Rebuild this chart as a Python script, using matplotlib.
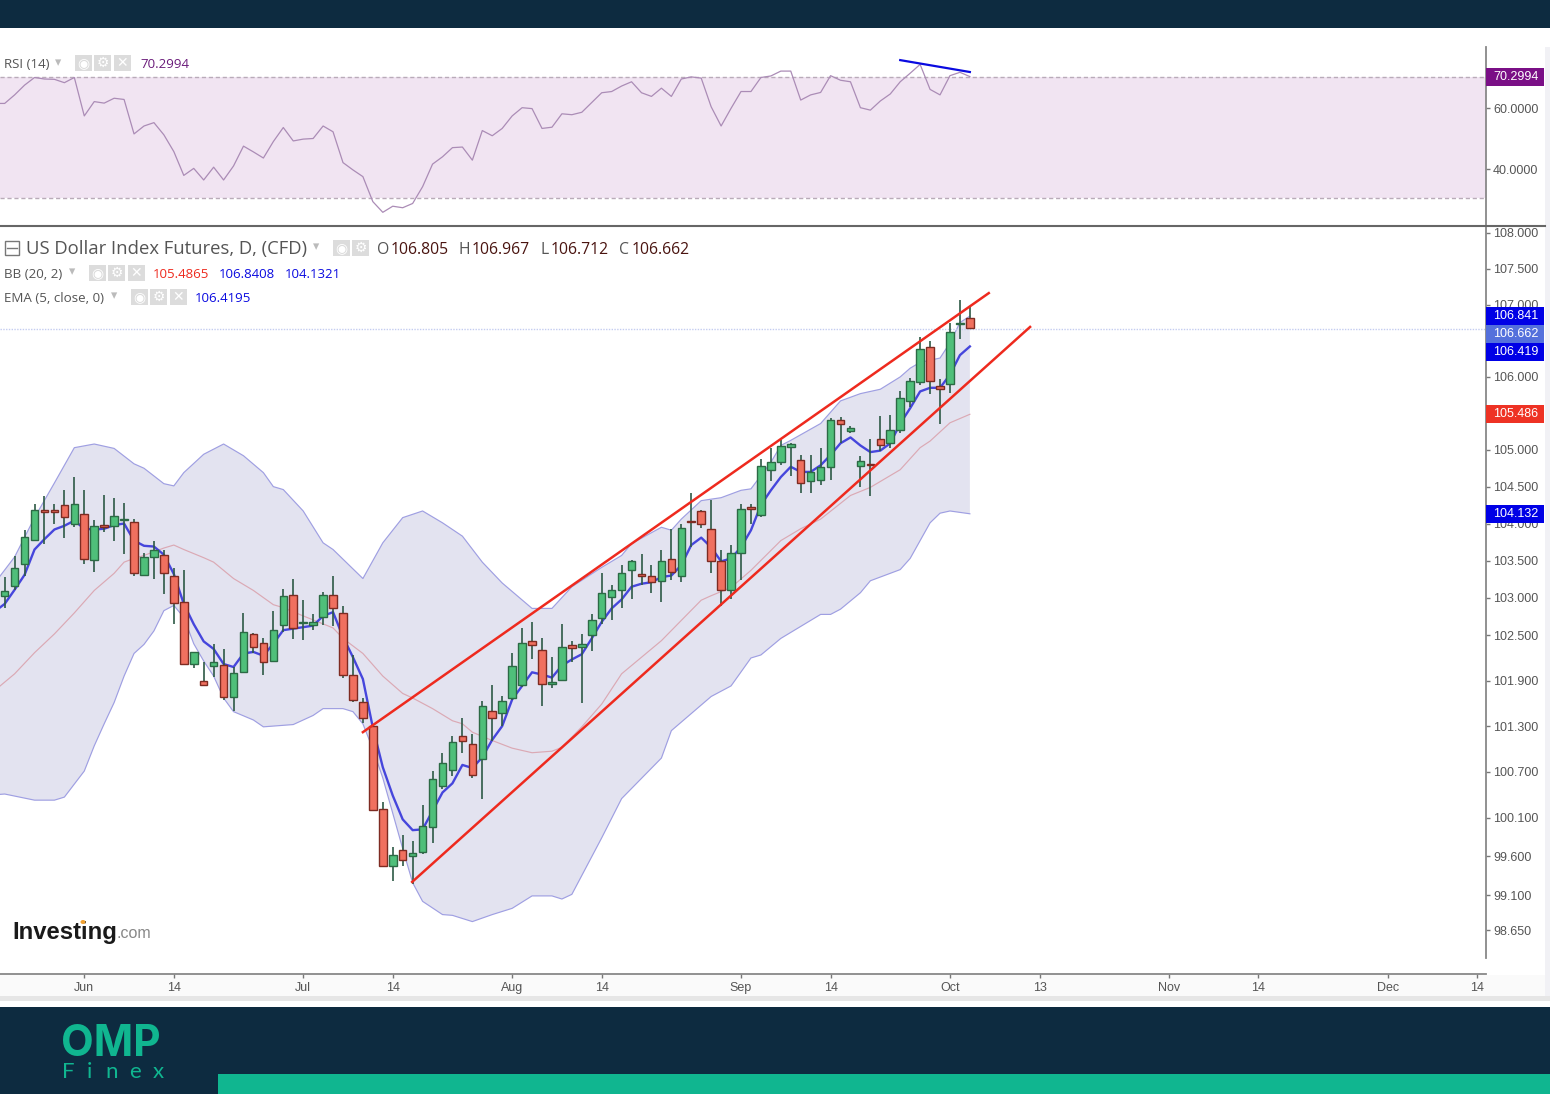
from matplotlib import pyplot as plt
from matplotlib.patches import Rectangle, Ellipse
import numpy as np

plt.rcParams['font.family'] = ['Open Sans', 'DejaVu Sans']

# candles, one per trading day
opens = [103.03, 103.16, 103.46, 103.78, 104.18, 104.19, 104.25, 104.00, 104.13, 103.51,
         103.98, 103.97, 104.05, 104.02, 103.31, 103.55, 103.58, 103.29, 102.94, 102.12,
         101.89, 102.09, 102.11, 101.68, 102.02, 102.52, 102.40, 102.16, 102.64, 103.04,
         102.66, 102.64, 102.75, 103.04, 102.80, 101.98, 101.62, 101.30, 100.22, 99.47,
         99.68, 99.60, 99.66, 99.98, 100.52, 100.73, 101.17, 101.06, 100.87, 101.50,
         101.47, 101.67, 101.84, 102.43, 102.31, 101.85, 101.91, 102.37, 102.34, 102.50,
         102.73, 103.01, 103.11, 103.38, 103.32, 103.29, 103.23, 103.52, 103.29, 104.04,
         104.17, 103.92, 103.50, 103.11, 103.60, 104.22, 104.11, 104.73, 104.84, 105.04,
         104.86, 104.58, 104.59, 104.77, 105.41, 105.26, 104.78, 104.81, 105.15, 105.10,
         105.27, 105.67, 105.93, 106.41, 105.88, 105.90, 106.73, 106.82]
closes = [103.09, 103.40, 103.82, 104.19, 104.16, 104.15, 104.09, 104.27, 103.52, 103.97,
          103.95, 104.10, 104.06, 103.33, 103.55, 103.65, 103.33, 102.93, 102.12, 102.28,
          101.84, 102.14, 101.68, 102.00, 102.55, 102.35, 102.14, 102.57, 103.03, 102.60,
          102.68, 102.68, 103.04, 102.87, 101.97, 101.65, 101.40, 100.20, 99.47, 99.62,
          99.55, 99.64, 100.00, 100.61, 100.81, 101.09, 101.10, 100.66, 101.56, 101.40,
          101.63, 102.10, 102.40, 102.37, 101.85, 101.88, 102.35, 102.33, 102.39, 102.70,
          103.07, 103.11, 103.34, 103.49, 103.29, 103.21, 103.49, 103.35, 103.94, 104.02,
          104.00, 103.49, 103.11, 103.60, 104.20, 104.20, 104.78, 104.83, 105.05, 105.08,
          104.55, 104.70, 104.77, 105.41, 105.35, 105.30, 104.85, 104.79, 105.07, 105.27,
          105.71, 105.94, 106.38, 105.94, 105.84, 106.62, 106.74, 106.68]
highs = [103.28, 103.56, 103.91, 104.27, 104.37, 104.26, 104.46, 104.63, 104.46, 104.05,
         104.38, 104.34, 104.28, 104.06, 103.60, 103.76, 103.64, 103.40, 103.37, 102.28,
         102.15, 102.39, 102.32, 102.08, 102.80, 102.53, 102.47, 102.83, 103.12, 103.25,
         102.97, 102.79, 103.08, 103.30, 102.89, 102.24, 101.67, 101.33, 100.31, 99.72,
         99.88, 99.80, 100.27, 100.71, 100.95, 101.17, 101.41, 101.20, 101.63, 101.84,
         101.69, 102.26, 102.60, 102.68, 102.47, 102.21, 102.65, 102.42, 102.52, 102.79,
         103.34, 103.18, 103.44, 103.51, 103.59, 103.44, 103.65, 103.93, 103.99, 104.41,
         104.19, 104.32, 103.65, 103.71, 104.27, 104.27, 104.88, 105.02, 105.13, 105.09,
         104.93, 104.93, 105.03, 105.44, 105.45, 105.32, 104.91, 105.15, 105.46, 105.48,
         105.81, 105.98, 106.55, 106.49, 105.97, 106.75, 107.06, 106.98]
lows = [102.87, 103.10, 103.29, 103.77, 103.73, 103.99, 103.81, 103.96, 103.45, 103.35,
        103.88, 103.77, 103.59, 103.30, 103.30, 103.25, 103.05, 102.65, 102.12, 102.07,
        101.84, 101.95, 101.64, 101.50, 102.01, 102.26, 101.98, 102.14, 102.54, 102.45,
        102.44, 102.57, 102.64, 102.62, 101.93, 101.62, 101.34, 100.20, 99.46, 99.28,
        99.47, 99.24, 99.63, 99.77, 100.47, 100.65, 100.95, 100.62, 100.35, 101.11,
        101.30, 101.65, 101.81, 102.19, 101.57, 101.80, 101.90, 102.15, 101.61, 102.29,
        102.65, 102.70, 102.86, 102.98, 103.17, 103.06, 102.95, 103.24, 103.21, 103.68,
        103.94, 103.34, 102.89, 102.98, 103.24, 104.00, 104.09, 104.57, 104.80, 104.65,
        104.41, 104.41, 104.52, 104.59, 105.10, 105.23, 104.49, 104.37, 104.99, 105.02,
        105.23, 105.58, 105.89, 105.76, 105.35, 105.78, 106.52, 106.68]

# EMA (5) and RSI (14) start one day before the first whole candle
ema = [102.82, 102.92, 103.11, 103.31, 103.65, 103.79, 103.92, 103.97, 104.04, 103.93, 103.92,
       103.93, 103.98, 104.00, 103.77, 103.70, 103.69, 103.58, 103.32, 102.92, 102.65,
       102.42, 102.32, 102.12, 102.08, 102.26, 102.28, 102.23, 102.39, 102.57, 102.59,
       102.61, 102.63, 102.76, 102.81, 102.48, 102.21, 101.92, 101.28, 100.76, 100.39,
       100.08, 99.94, 99.95, 100.19, 100.43, 100.55, 100.79, 100.75, 100.89, 101.12,
       101.30, 101.65, 101.83, 102.01, 101.98, 101.94, 102.10, 102.18, 102.25, 102.46,
       102.68, 102.86, 102.98, 103.15, 103.19, 103.21, 103.28, 103.30, 103.44, 103.71,
       103.81, 103.68, 103.49, 103.53, 103.68, 103.91, 104.25, 104.45, 104.63, 104.77,
       104.70, 104.70, 104.79, 104.93, 105.09, 105.17, 105.06, 104.97, 104.99, 105.09,
       105.36, 105.57, 105.80, 105.85, 105.85, 106.03, 106.30, 106.42]
rsi = [61.5, 61.5, 64.3, 67.5, 70.0, 69.5, 69.4, 68.3, 70.0, 57.4, 62.1,
       61.6, 63.2, 62.8, 51.5, 54.1, 55.2, 51.2, 45.7, 37.9, 40.2,
       36.4, 40.6, 36.4, 41.0, 47.5, 45.6, 43.6, 49.0, 53.6, 49.2,
       49.8, 50.0, 54.1, 52.2, 42.1, 39.7, 37.5, 29.3, 25.8, 27.8,
       27.3, 28.7, 34.2, 41.6, 44.0, 47.0, 47.2, 42.9, 52.6, 50.9,
       53.3, 57.4, 60.1, 59.8, 53.3, 53.7, 58.1, 57.8, 58.6, 61.8,
       65.0, 65.4, 67.2, 68.6, 65.0, 63.8, 66.5, 63.8, 69.5, 70.2,
       69.8, 60.4, 54.1, 59.9, 65.4, 65.4, 70.0, 70.5, 72.1, 72.1,
       62.6, 64.3, 65.1, 70.6, 69.1, 68.6, 60.1, 59.3, 62.3, 64.6,
       68.6, 71.4, 74.3, 66.1, 64.3, 70.6, 71.7, 70.3]
rsi_band = [30.4, 70.15]

# Bollinger bands, only the days where the line visibly bends
upper_days = [-1, 1, 3, 5, 7, 9, 11, 13, 14, 16, 17, 18, 20, 22, 24, 26, 27, 28, 30, 32, 33, 36, 38, 40, 42, 44,
              46, 48, 50, 53, 55, 57, 60, 62, 63, 66, 67, 68, 70, 72, 74, 75, 77, 78, 79, 82, 84, 86, 88, 90,
              91, 92, 94, 95, 96, 97]
upper = [103.20, 103.55, 104.08, 104.55, 105.03, 105.08, 105.02, 104.81, 104.75, 104.54, 104.51, 104.69, 104.94,
         105.08, 104.92, 104.69, 104.50, 104.46, 104.17, 103.74, 103.65, 103.26, 103.74, 104.08, 104.17, 104.01,
         103.83, 103.48, 103.20, 102.86, 102.86, 103.15, 103.41, 103.57, 103.73, 103.95, 103.91, 104.06, 104.31,
         104.35, 104.45, 104.47, 104.83, 105.06, 105.13, 105.36, 105.67, 105.77, 105.83, 106.00, 106.12, 106.20,
         106.26, 106.47, 106.75, 106.8408]
lower_days = [-1, 0, 3, 5, 6, 7, 8, 9, 10, 11, 12, 13, 14, 15, 16, 17, 18, 19, 20, 21, 22, 23, 25, 26, 29, 31, 32,
              34, 35, 36, 37, 38, 39, 40, 41, 42, 44, 45, 47, 49, 51, 53, 55, 56, 57, 60, 62, 66, 67, 71, 73, 75,
              76, 78, 82, 83, 84, 86, 87, 90, 91, 93, 94, 95, 97]
lower = [100.40, 100.41, 100.33, 100.33, 100.37, 100.54, 100.71, 101.04, 101.33, 101.61, 101.96, 102.26, 102.38,
         102.56, 102.83, 102.90, 102.74, 102.39, 102.16, 101.96, 101.67, 101.49, 101.38, 101.29, 101.32, 101.44,
         101.53, 101.53, 101.49, 101.33, 101.00, 100.62, 100.16, 99.70, 99.26, 99.02, 98.85, 98.84, 98.76, 98.85,
         98.93, 99.09, 99.09, 99.05, 99.11, 99.84, 100.35, 100.88, 101.24, 101.69, 101.83, 102.20, 102.24, 102.46,
         102.78, 102.78, 102.85, 103.07, 103.23, 103.38, 103.53, 104.01, 104.14, 104.17, 104.1321]
middle_days = [-1, 1, 3, 5, 7, 9, 11, 12, 13, 14, 16, 17, 18, 20, 21, 23, 25, 27, 28, 30, 33, 34, 36, 38, 40, 41,
               43, 45, 46, 47, 49, 51, 53, 55, 56, 58, 60, 62, 66, 68, 70, 71, 73, 75, 78, 80, 82, 85, 87, 90, 92,
               93, 95, 97]
middle = [101.77, 101.99, 102.27, 102.52, 102.80, 103.10, 103.33, 103.48, 103.53, 103.57, 103.67, 103.71, 103.65,
          103.54, 103.48, 103.26, 103.10, 102.91, 102.87, 102.76, 102.60, 102.46, 102.26, 101.96, 101.73, 101.67,
          101.53, 101.37, 101.33, 101.22, 101.11, 101.01, 100.95, 100.97, 101.02, 101.29, 101.59, 101.99, 102.43,
          102.70, 102.97, 103.03, 103.14, 103.37, 103.77, 103.93, 104.06, 104.38, 104.49, 104.73, 105.03, 105.12,
          105.37, 105.4865]

# hand drawn lines: (day, value) at both ends
wedge_top_days = [36.0, 98.9]
wedge_top = [101.22, 107.16]
wedge_bottom_days = [40.95, 103.05]
wedge_bottom = [99.27, 106.69]
rsi_line_days = [90.0, 97.0]
rsi_line = [75.7, 71.8]
last_price = 106.662

price_ticks = [108, 107.5, 107, 106, 105, 104.5, 104, 103.5, 103, 102.5, 101.9, 101.3, 100.7, 100.1, 99.6, 99.1, 98.65]
rsi_ticks = [60, 40]
date_ticks = [8, 17, 30, 39, 51, 60, 74, 83, 95, 104, 117, 126, 139, 148]
date_labels = ['Jun', '14', 'Jul', '14', 'Aug', '14', 'Sep', '14', 'Oct', '13', 'Nov', '14', 'Dec', '14']

NAVY = '#0d2b40'
TEAL = '#10b690'
TICK_FONT = 'Liberation Sans'
W, H = 1550, 1094

fig = plt.figure(figsize=(W / 100, H / 100), dpi=100, facecolor='white')

# light strip behind the date labels
under = fig.add_axes([0, 0, 1, 1], zorder=-1)
under.set_xlim(0, W)
under.set_ylim(H, 0)
under.axis('off')
under.add_patch(Rectangle((0, 975), W, 21, color='#fafafa', lw=0))

ax_rsi = fig.add_axes([0, (H - 225) / H, 1486 / W, 178 / H])
ax = fig.add_axes([0, (H - 974) / H, 1486 / W, 747 / H])
days = np.arange(len(opens))
xlim = (-0.47, 148.87)

# RSI panel
ax_rsi.axhspan(rsi_band[0], rsi_band[1], color='#f1e4f2', lw=0)
ax_rsi.axhline(rsi_band[1], color='#b9abb9', lw=1, dashes=(3, 2))
ax_rsi.axhline(rsi_band[0], color='#b9abb9', lw=1, dashes=(3, 2))
ax_rsi.plot(np.arange(-1, len(rsi) - 1), rsi, color='#ab8cb6', lw=0.9)
ax_rsi.plot(rsi_line_days, rsi_line, color='#0a0ae0', lw=1.6)
ax_rsi.set_xlim(xlim)
ax_rsi.set_ylim(21.64, 80)
ax_rsi.set_xticks([])
ax_rsi.yaxis.tick_right()
ax_rsi.set_yticks(rsi_ticks)
ax_rsi.set_yticklabels(['%.4f' % t for t in rsi_ticks], fontsize=9, family=TICK_FONT, color='#555555')
ax_rsi.tick_params(axis='y', length=3, width=1, color='#777777', pad=2)
for side in ['top', 'left', 'bottom']:
    ax_rsi.spines[side].set_visible(False)
ax_rsi.spines['right'].set_color('#888888')
ax_rsi.spines['right'].set_linewidth(1.3)

# price panel
ax.set_yscale('log')
ax.fill(np.r_[upper_days, lower_days[::-1]], np.r_[upper, lower[::-1]], color='#e3e3f0', lw=0, zorder=1)
ax.plot(upper_days, upper, color='#9f9fe2', lw=0.85, zorder=2)
ax.plot(lower_days, lower, color='#9f9fe2', lw=0.85, zorder=2)
ax.plot(middle_days, middle, color='#dba9b4', lw=0.85, zorder=2)
ax.axhline(last_price, color='#c4ccf0', lw=1, dashes=(1, 1), zorder=2)
ax.plot(np.arange(-1, len(ema) - 1), ema, color='#4646dc', lw=1.7, zorder=3)

ax.vlines(days, lows, highs, color='#2d5a46', lw=1.2, zorder=4)
for d, o, c in zip(days, opens, closes):
    up = c >= o
    ax.bar(d, abs(c - o), bottom=min(o, c), width=0.76, color='#4fbf7a' if up else '#f0705f',
           edgecolor='#2c6a45' if up else '#7e2b22', lw=1, zorder=5)

ax.plot(wedge_top_days, wedge_top, color='#ee2a1e', lw=1.8, zorder=6)
ax.plot(wedge_bottom_days, wedge_bottom, color='#ee2a1e', lw=1.8, zorder=6)

ax.set_xlim(xlim)
ax.set_ylim(98.09, 108.084)
ax.patch.set_alpha(0)
ax.yaxis.tick_right()
ax.set_yticks(price_ticks)
ax.set_yticklabels(['%.3f' % t for t in price_ticks], fontsize=9, family=TICK_FONT, color='#555555')
ax.minorticks_off()
ax.set_xticks(date_ticks)
ax.set_xticklabels(date_labels, fontsize=9, family=TICK_FONT, color='#555555')
ax.tick_params(axis='both', length=3, width=1, color='#777777', pad=2)
ax.tick_params(axis='x', pad=2.5)
for side in ['top', 'left']:
    ax.spines[side].set_visible(False)
for side in ['right', 'bottom']:
    ax.spines[side].set_color('#888888')
    ax.spines[side].set_linewidth(1.3)
ax.spines['right'].set_bounds(98.29, 108.084)

# page furniture, in picture pixels with y going down
top = fig.add_axes([0, 0, 1, 1], zorder=5)
top.set_xlim(0, W)
top.set_ylim(H, 0)
top.axis('off')


def box(x, y, w, h, color):
    top.add_patch(Rectangle((x, y), w, h, color=color, lw=0))


def label(x, y, s, color='#555555', size=9.5, **kw):
    top.text(x, y, s, color=color, fontsize=size, va='center', **kw)


def icons(x, y, glyphs):
    for n, g in enumerate(glyphs):
        box(x + n * 19.3, y - 8, 17, 16, '#dcdcdc')
        top.text(x + n * 19.3 + 8.5, y, g, color='white', fontsize=10, ha='center', va='center',
                 family='DejaVu Sans', fontweight='bold')


def price_tag(axis, value, text, color, shift=0):
    y = H - axis.transData.transform((0, value))[1] + shift
    box(1486, y - 9, 58, 18, color)
    label(1493, y, text, color='white', size=9, family=TICK_FONT)


box(0, 0, W, 28, NAVY)
box(0, 996, W, 5, '#e6e6e6')
box(1545, 47, 5, 949, '#f1f1f5')
box(0, 1007, W, 87, NAVY)
box(218, 1074, W - 218, 20, TEAL)
top.plot([0, 1545], [226, 226], color='#666666', lw=1.5)

# legend rows
label(4, 65, 'RSI (14)', color='#555555', size=9.6)
label(55, 63, '▾', color='#bbbbbb', size=9, family='DejaVu Sans')
icons(75, 63, '◉⚙✕')
label(140, 65, '70.2994', color='#6a1b7a', size=9.5)

box(4.5, 241, 14, 14, 'white')
top.add_patch(Rectangle((4.5, 241), 14, 14, fill=False, edgecolor='#777777', lw=1))
top.plot([6.5, 16.5], [248, 248], color='#777777', lw=1)
label(26, 249, 'US Dollar Index Futures, D, (CFD)', color='#555555', size=13.3)
label(313, 247, '▾', color='#bbbbbb', size=9, family='DejaVu Sans')
icons(333, 248, '◉⚙')
for x, s, vx, v in [(377, 'O', 391, '106.805'), (459, 'H', 472, '106.967'),
                    (540, 'L', 551, '106.712'), (619, 'C', 632, '106.662')]:
    label(x, 250, s, color='#555555', size=11.3)
    label(vx, 250, v, color='#4a1410', size=11.3)

label(4, 274, 'BB (20, 2)', color='#555555', size=9.6)
label(69, 272, '▾', color='#bbbbbb', size=9, family='DejaVu Sans')
icons(89, 273, '◉⚙✕')
label(153, 274, '105.4865', color='#ee2a1e', size=9.5)
label(219, 274, '106.8408', color='#0a0ae0', size=9.5)
label(285, 274, '104.1321', color='#0a0ae0', size=9.5)

label(4, 298, 'EMA (5, close, 0)', color='#555555', size=9.6)
label(111, 296, '▾', color='#bbbbbb', size=9, family='DejaVu Sans')
icons(131, 297, '◉⚙✕')
label(195, 298, '106.4195', color='#0a0ae0', size=9.5)

# value tags on the axes
price_tag(ax_rsi, 70.2994, '70.2994', '#7a0f86')
price_tag(ax, 106.8408, '106.841', '#0000e6')
price_tag(ax, last_price, '106.662', '#5470dc', shift=5)
price_tag(ax, 106.4195, '106.419', '#0000e6', shift=6)
price_tag(ax, 105.4865, '105.486', '#ee3224')
price_tag(ax, 104.1321, '104.132', '#0000e6')

# logos
top.text(12, 933, 'Investing', color='#1a1a1a', fontsize=17.2, fontweight='bold', family='Liberation Sans', va='center')
top.text(117, 934, '.com', color='#888888', fontsize=11.5, family='Liberation Sans', va='center')
top.add_patch(Ellipse((83, 922), 5, 4, color='#f0a030', lw=0, zorder=4))
top.text(61, 1044, 'OMP', color=TEAL, fontsize=30.5, fontweight='bold', family='Inter', va='center')
for x, s in zip([62, 87, 105, 129, 153], 'Finex'):
    top.text(x, 1072, s, color=TEAL, fontsize=16, family='Lato', va='center')

fig.savefig('out.png', dpi=100)
